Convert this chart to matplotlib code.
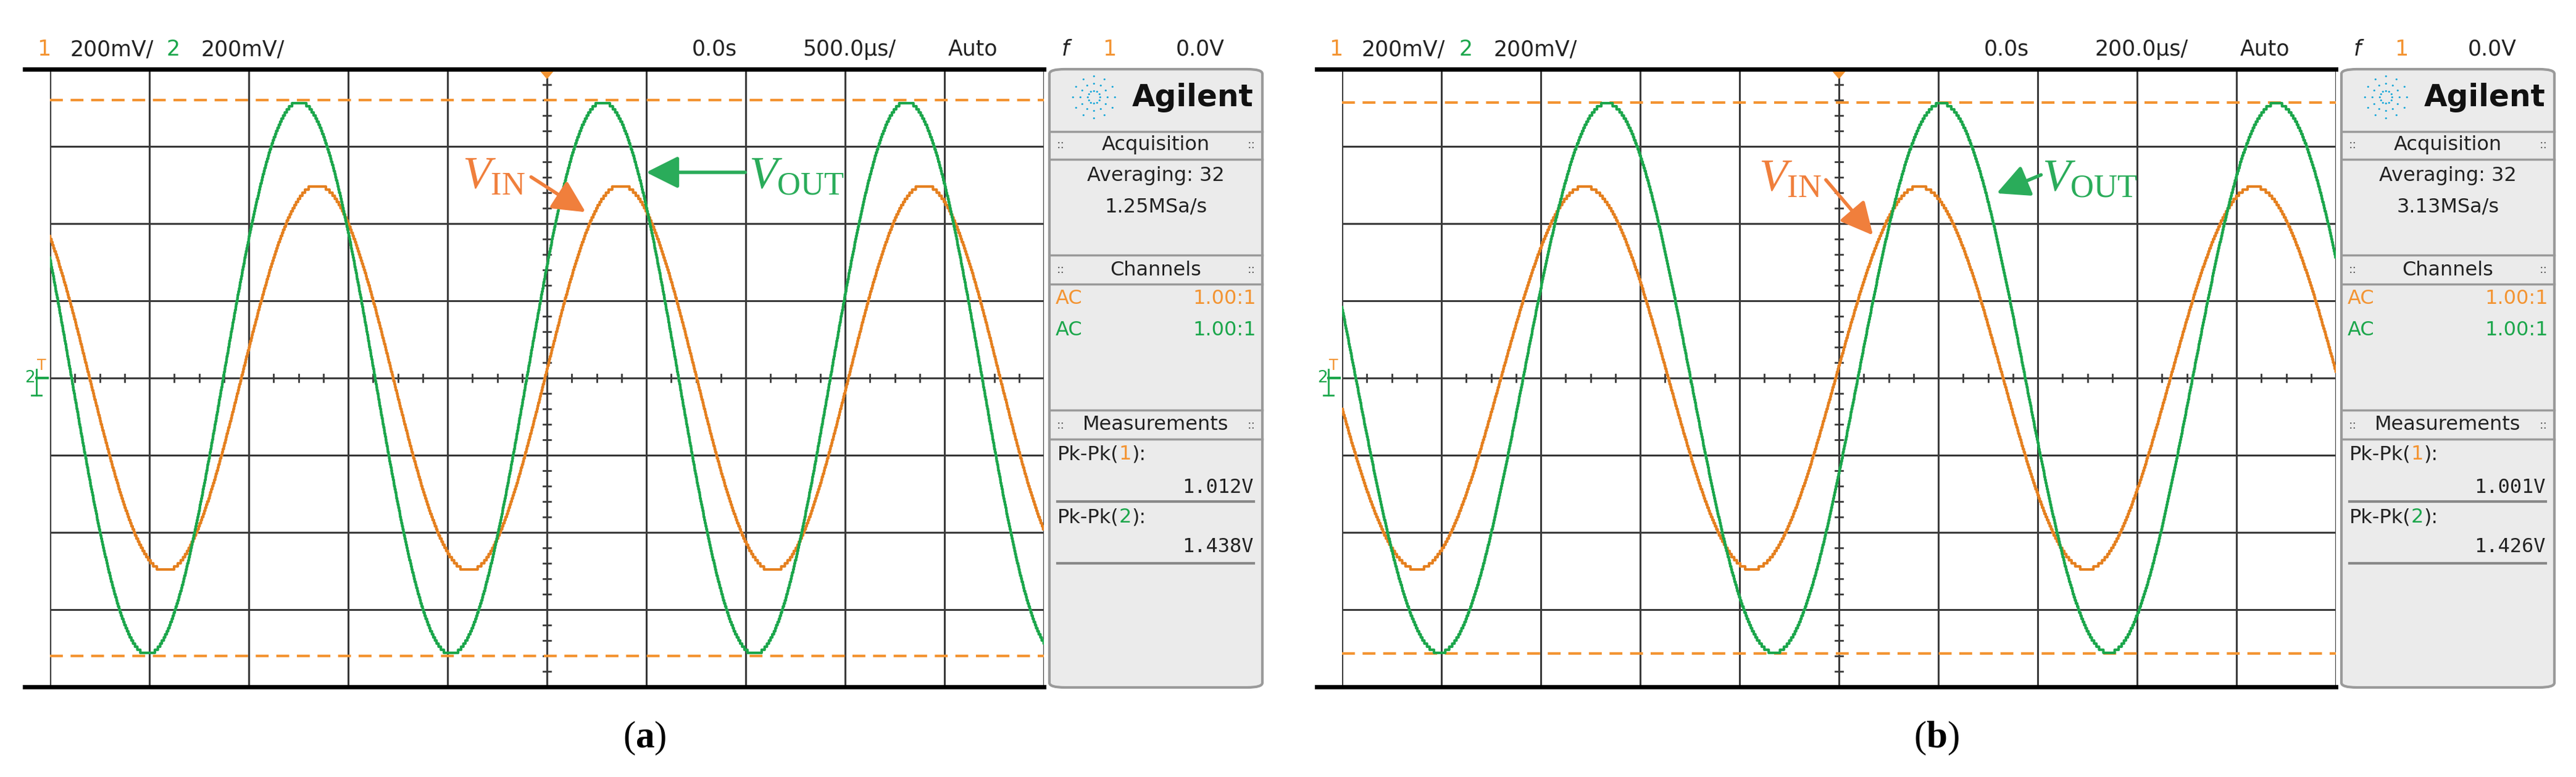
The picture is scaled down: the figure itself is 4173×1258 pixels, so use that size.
import numpy as np
import matplotlib
matplotlib.use("Agg")
import matplotlib.pyplot as plt
from matplotlib.patches import FancyBboxPatch, Polygon, FancyArrowPatch

plt.rcParams['mathtext.fontset'] = 'custom'
plt.rcParams['mathtext.rm'] = 'Liberation Serif'
plt.rcParams['mathtext.it'] = 'Liberation Serif:italic'
plt.rcParams['mathtext.bf'] = 'Liberation Serif:bold'

W, H = 4173, 1258
# ---- data (screen divisions: x = time div, y = volts div @200mV/div) ----
panels = ["a", "b"]
timebase = ["500.0\u00b5s/", "200.0\u00b5s/"]
sample_rate = ["1.25MSa/s", "3.13MSa/s"]
pkpk1 = ["1.012V", "1.001V"]
pkpk2 = ["1.438V", "1.426V"]
period_div = [3.054, 3.368]
vin_amp_div = [2.50, 2.48]
vout_amp_div = [3.58, 3.56]
vin_peak_div = [0.744, 0.81]
vout_peak_div = [0.562, 1.033]
cursor_div = [3.6, 3.57]

ORANGE = '#e5801f'
ORANGE_D = '#f39432'
GREEN = '#1ba64b'
GRID = '#3a3a3a'
NARROW = ['DejaVu Sans']

fig = plt.figure(figsize=(W/100, H/100), dpi=100)
rend = fig.canvas.get_renderer()

def fx(x): return x / W
def fy(y): return 1 - y / H

def ftext(x, y, s, **kw):
    return fig.text(fx(x), fy(y), s, **kw)

def chain(x, y, parts, **kw):
    for s, col in parts:
        t = ftext(x, y, s, color=col, **kw)
        bb = t.get_window_extent(rend)
        x += bb.width

offsets = [0, 2093]
for i, off in enumerate(offsets):
    L, R, T, B = 81 + off, 1691 + off, 112, 1112
    ax = fig.add_axes([fx(L), fy(B), fx(R - L), (B - T) / H])
    ax.set_xlim(-5, 5); ax.set_ylim(-4, 4)
    ax.axis('off')
    for gx in range(-5, 6):
        ax.axvline(gx, color=GRID, lw=2.2, zorder=1)
    for gy in range(-4, 5):
        ax.axhline(gy, color=GRID, lw=2.2, zorder=1)
    for tx in np.arange(-5, 5.01, 0.25):
        ax.plot([tx, tx], [-0.05, 0.05], color=GRID, lw=2, zorder=1)
    for ty in np.arange(-4, 4.01, 0.2):
        ax.plot([-0.04, 0.04], [ty, ty], color=GRID, lw=2, zorder=1)
    for c in (cursor_div[i], -cursor_div[i]):
        ax.axhline(c, color=ORANGE_D, lw=3, ls=(0, (5, 3)), zorder=2)
    t = np.linspace(-5, 5, 3000)
    w = 2 * np.pi / period_div[i]
    vin = vin_amp_div[i] * np.cos(w * (t - vin_peak_div[i]))
    vout = vout_amp_div[i] * np.cos(w * (t - vout_peak_div[i]))
    ax.plot(t, np.round(vin * 25) / 25, color=ORANGE, lw=3, zorder=3, drawstyle='steps-mid')
    ax.plot(t, np.round(vout * 25) / 25, color=GREEN, lw=3, zorder=4, drawstyle='steps-mid')
    ax.add_patch(Polygon([[-0.08, 4.0], [0.08, 4.0], [0, 3.88]], closed=True,
                         color=ORANGE_D, clip_on=False, zorder=5))
    fig.add_artist(plt.Line2D([fx(40 + off), fx(R)], [fy(T), fy(T)], color='black', lw=5))
    fig.add_artist(plt.Line2D([fx(40 + off), fx(R)], [fy(B), fy(B)], color='black', lw=5))
    # ground marker
    ftext(L - 14, 592, "T", color=ORANGE_D, fontsize=17, ha='center', va='center')
    ftext(L - 32, 612, "2", color=GREEN, fontsize=19, ha='center', va='center')
    fig.add_artist(plt.Line2D([fx(L - 22), fx(L - 4)], [fy(612), fy(612)], color=GREEN, lw=3))
    fig.add_artist(plt.Line2D([fx(L - 22), fx(L - 22)], [fy(598), fy(640)], color=GREEN, lw=2))
    fig.add_artist(plt.Line2D([fx(L - 30), fx(L - 14)], [fy(640), fy(640)], color=GREEN, lw=2))
    # header
    hy = 80
    hs = 25
    hk = dict(fontsize=hs, family=NARROW, va='center')
    ftext(60 + off, hy, "1", color=ORANGE_D, **hk)
    ftext(113 + off, hy, "200mV/", color='#222', **hk)
    ftext(270 + off, hy, "2", color=GREEN, **hk)
    ftext(326 + off, hy, "200mV/", color='#222', **hk)
    ftext(1121 + off, hy, "0.0s", color='#222', **hk)
    ftext(1300 + off, hy, timebase[i], color='#222', **hk)
    ftext(1536 + off, hy, "Auto", color='#222', **hk)
    ftext(1720 + off, hy, "f", color='#222', style='italic', **hk)
    ftext(1786 + off, hy, "1", color=ORANGE_D, **hk)
    ftext(1905 + off, hy, "0.0V", color='#222', **hk)
    # annotations
    if i == 0:
        vin_xy, vin_arrow = (800, 285), ((858, 285), (951, 345))
        vout_xy, vout_arrow = (1290, 285), ((1210, 279), (1044, 279))
    else:
        vin_xy, vin_arrow = (2900, 289), ((2956, 289), (3036, 383))
        vout_xy, vout_arrow = (3385, 289), ((3309, 282), (3232, 314))
    ftext(*vin_xy, r"$V_{\mathrm{IN}}$", color='#f07f3c', fontsize=54, ha='center', va='center')
    ftext(*vout_xy, r"$V_{\mathrm{OUT}}$", color='#2aac5a', fontsize=54, ha='center', va='center')
    for (p0, p1), col in ((vin_arrow, '#f07f3c'), (vout_arrow, '#2aac5a')):
        fig.add_artist(FancyArrowPatch(
            (fx(p0[0]), fy(p0[1])), (fx(p1[0]), fy(p1[1])), transform=fig.transFigure,
            arrowstyle='-|>,head_length=1.6,head_width=0.8', mutation_scale=20,
            color=col, lw=4))
    # side panel
    SL, SR = 1700 + off, 2045 + off
    fig.add_artist(FancyBboxPatch((fx(SL), fy(1113)), fx(SR - SL), (1113 - 112) / H,
                                  boxstyle='round,pad=0,rounding_size=0.006',
                                  transform=fig.transFigure, facecolor='#ebebeb',
                                  edgecolor='#9a9a9a', lw=3))
    for yy in (213, 258, 413, 460, 664, 711):
        fig.add_artist(plt.Line2D([fx(SL), fx(SR)], [fy(yy), fy(yy)], color='#9a9a9a', lw=2.5))
    cx = (SL + SR) / 2
    ftext(1932 + off, 158, "Agilent", fontsize=35, weight='bold', ha='center', va='center',
          family=['DejaVu Sans'], color='#111')
    for ang in np.arange(0, 360, 30):
        for r in (10, 22, 34):
            ftext(1772 + off + r*np.cos(np.radians(ang)), 158 + r*np.sin(np.radians(ang)),
                  "\u2022", fontsize=8, color='#19a7d8', ha='center', va='center')
    ps = 23
    pk = dict(fontsize=ps, family=NARROW, va='center')
    for yy, s in ((235, "Acquisition"), (437, "Channels"), (688, "Measurements")):
        ftext(cx, yy, s, ha='center', color='#222', **pk)
        ftext(SL + 18, yy, "::", fontsize=14, ha='center', va='center', color='#555')
        ftext(SR - 18, yy, "::", fontsize=14, ha='center', va='center', color='#555')
    ftext(cx, 285, "Averaging: 32", ha='center', color='#222', **pk)
    ftext(cx, 335, sample_rate[i], ha='center', color='#222', **pk)
    ftext(SL + 10, 484, "AC", color=ORANGE_D, **pk)
    ftext(SR - 10, 484, "1.00:1", ha='right', color=ORANGE_D, **pk)
    ftext(SL + 10, 535, "AC", color=GREEN, **pk)
    ftext(SR - 10, 535, "1.00:1", ha='right', color=GREEN, **pk)
    for yy, ch, col, val, vy, uy in ((736, "1", ORANGE_D, pkpk1[i], 789, 812),
                                      (838, "2", GREEN, pkpk2[i], 886, 912)):
        chain(SL + 13, yy, [("Pk-Pk(", '#222'), (ch, col), ("):", '#222')], **pk)
        ftext(SR - 14, vy, val, fontsize=ps, family=['DejaVu Sans Mono'],
              va='center', ha='right', color='#222')
        fig.add_artist(plt.Line2D([fx(SL + 13), fx(SR - 14)], [fy(uy), fy(uy)], color='#888', lw=3))
    # caption
    ftext(1044 + off, 1195, r"($\mathbf{" + panels[i] + r"}$)", fontsize=44,
          ha='center', va='center', family=['Liberation Serif'])

fig.savefig("out.png", dpi=100)
